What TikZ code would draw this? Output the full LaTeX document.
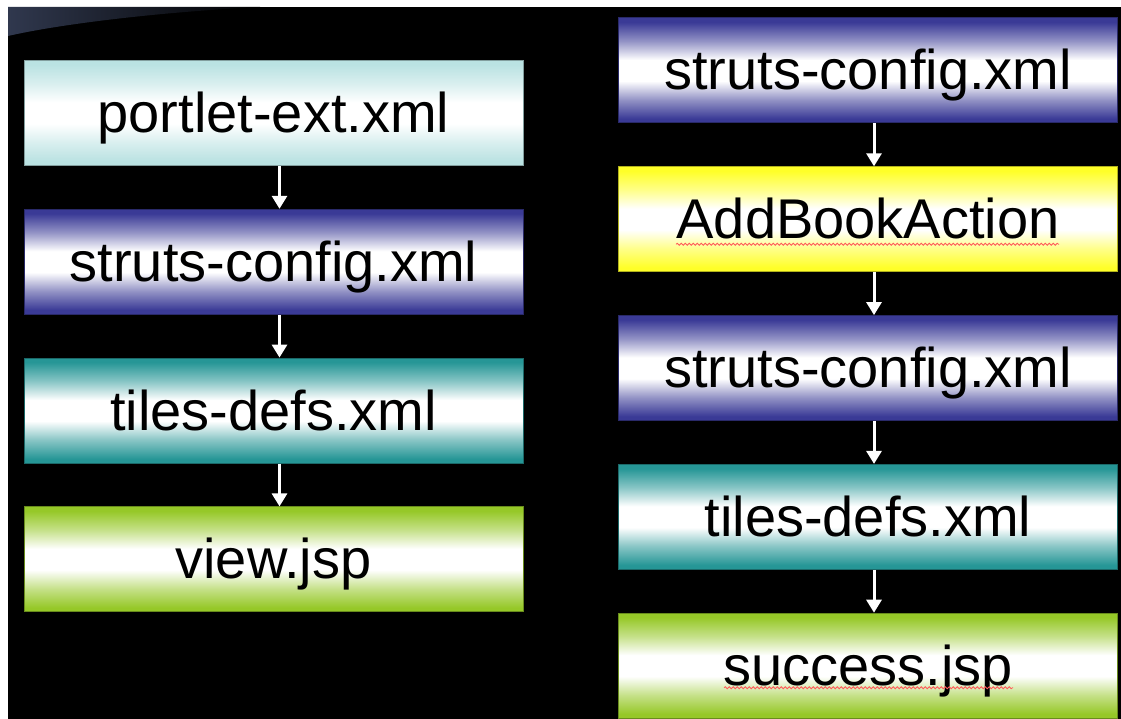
\documentclass[tikz,border=0pt]{standalone}
\usepackage{fontspec}
\setmainfont{Liberation Sans}
\usetikzlibrary{positioning,arrows.meta,decorations.pathmorphing}

% Box colours
\definecolor{portletcol}{RGB}{186,226,226}
\definecolor{strutscol}{RGB}{58,58,150}
\definecolor{actioncol}{RGB}{255,255,40}
\definecolor{tilescol}{RGB}{38,150,150}
\definecolor{jspcol}{RGB}{150,200,40}
\definecolor{swooshcol}{RGB}{48,56,78}

% Coloured edges, white middle
\newcommand{\boxshading}[2]{%
  \pgfdeclareverticalshading{#1}{100bp}{color(0bp)=(#2); color(27bp)=(#2);
    color(36bp)=(#2!55!white); color(45bp)=(white); color(55bp)=(white);
    color(64bp)=(#2!55!white); color(73bp)=(#2); color(100bp)=(#2)}}
\boxshading{portletshade}{portletcol}
\boxshading{strutsshade}{strutscol}
\boxshading{actionshade}{actioncol}
\boxshading{tilesshade}{tilescol}
\boxshading{jspshade}{jspcol}

\begin{document}
\begin{tikzpicture}[
    x=1pt, y=-1pt,
    filebox/.style = {rectangle, draw=#1col!70!black, line width=1pt,
      shading=#1shade, minimum width=\Lbox pt, minimum height=\Hbox pt,
      inner sep=0pt, text height=40pt, text depth=1pt,
      font=\fontsize{56}{60}\selectfont},
    flow/.style = {draw=white, line width=3pt,
      -{Triangle[width=15pt,length=13pt]}},
    squiggle/.style = {red!65!white, line width=0.8pt, decorate,
      decoration={snake, segment length=4pt, amplitude=1pt}}
  ]
  \begin{scope}
    %%+++++++++++++++++++++++++
    % Variables
    % Box
    \pgfmathsetmacro{\Hbox}{105}
    \pgfmathsetmacro{\Lbox}{499}
    \pgfmathsetmacro{\Gap}{42.8}
    % Position of the columns
    \pgfmathsetmacro{\xL}{23.5}
    \pgfmathsetmacro{\yL}{60}
    \pgfmathsetmacro{\xR}{618}
    \pgfmathsetmacro{\yR}{17.5}
    % Arrows sit a bit right of the centre
    \pgfmathsetmacro{\dxarr}{6}
    %%+++++++++++++++++++++++++
    % Drawing
    \useasboundingbox (0,0) rectangle (1121,719);
    % Background
    \fill[white] (0,0) rectangle (1121,719);
    \fill[black] (8,7) rectangle (1121,719);
    \shade[left color=swooshcol, right color=black]
      (8,7) -- (260,7) .. controls (160,12) and (60,24) .. (8,36) -- cycle;
    % Left column
    \node[filebox=portlet, anchor=north west] (l1) at (\xL,\yL) {portlet-ext.xml};
    \node[filebox=struts, below=\Gap pt of l1] (l2) {struts-config.xml};
    \node[filebox=tiles, below=\Gap pt of l2] (l3) {tiles-defs.xml};
    \node[filebox=jsp, below=\Gap pt of l3] (l4) {view.jsp};
    % Right column
    \node[filebox=struts, anchor=north west] (r1) at (\xR,\yR) {struts-config.xml};
    \node[filebox=action, below=\Gap pt of r1] (r2) {AddBookAction};
    \node[filebox=struts, below=\Gap pt of r2] (r3) {struts-config.xml};
    \node[filebox=tiles, below=\Gap pt of r3] (r4) {tiles-defs.xml};
    \node[filebox=jsp, below=\Gap pt of r4] (r5) {success.jsp};
    % Arrows
    \foreach \a/\b in {l1/l2, l2/l3, l3/l4, r1/r2, r2/r3, r3/r4, r4/r5}
      \draw[flow] ([xshift=\dxarr pt]\a.south) -- ([xshift=\dxarr pt]\b.north);
    % Spell check marks
    \draw[squiggle] ([xshift=-192pt, yshift=-25pt]r2.center) -- ([xshift=191pt, yshift=-25pt]r2.center);
    \draw[squiggle] ([xshift=-144pt, yshift=-22pt]r5.center) -- ([xshift=145pt, yshift=-22pt]r5.center);
  \end{scope}
\end{tikzpicture}
\end{document}
